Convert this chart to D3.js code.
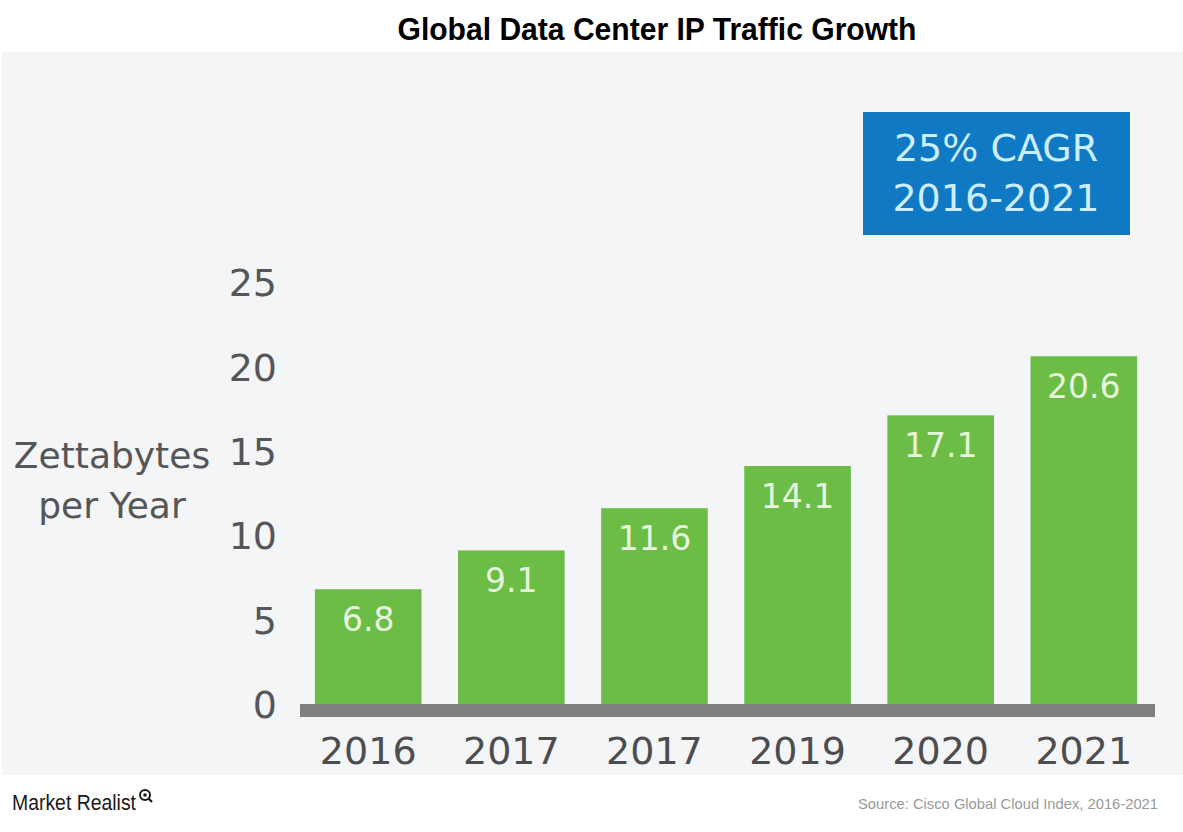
<!DOCTYPE html>
<html>
<head>
<meta charset="utf-8">
<script src="https://cdn.jsdelivr.net/npm/d3@7"></script>
<style>
  html, body { margin: 0; padding: 0; background: #ffffff; }
  svg { display: block; }
</style>
</head>
<body>
<svg id="chart" width="1183" height="832"></svg>
<script>
// ---- data ----
const years = ["2016", "2017", "2017 ", "2019", "2020", "2021"];
const yearLabels = ["2016", "2017", "2017", "2019", "2020", "2021"];
const traffic = [6.8, 9.1, 11.6, 14.1, 17.1, 20.6];
const yTicks = [0, 5, 10, 15, 20, 25];
const title = "Global Data Center IP Traffic Growth";
const yTitle = ["Zettabytes", "per Year"];
const cagrLines = ["25% CAGR", "2016-2021"];
const sourceText = "Source: Cisco Global Cloud Index, 2016-2021";
const brandText = "Market Realist";

// ---- drawing ----
const svg = d3.select("#chart");
const W = 1183, H = 832;
const sans = "'DejaVu Sans', 'Noto Sans', sans-serif";
const narrow = "'Liberation Sans Narrow', 'Liberation Sans', Arial, sans-serif";

svg.append("rect").attr("x", 0).attr("y", 0).attr("width", W).attr("height", H).attr("fill", "#ffffff");
// grey panel
svg.append("rect").attr("x", 2).attr("y", 52).attr("width", W - 2).attr("height", 723).attr("fill", "#f4f5f7");

// title
svg.append("text")
  .attr("x", 657).attr("y", 40)
  .attr("text-anchor", "middle")
  .attr("font-family", narrow)
  .attr("font-weight", "bold")
  .attr("font-size", 31)
  .attr("fill", "#000")
  .attr("textLength", 519)
  .attr("lengthAdjust", "spacingAndGlyphs")
  .text(title);

const y = d3.scaleLinear().domain([0, 25]).range([704, 282]);
const x = d3.scaleBand().domain(years).range([300.6, 1151.4]).paddingInner(0.255).paddingOuter(0.1);

// y axis (labels only)
const yAxis = d3.axisLeft(y).tickValues(yTicks).tickSize(0).tickPadding(0).tickFormat(d3.format("d"));
const gy = svg.append("g").attr("transform", "translate(277,0)").call(yAxis);
gy.select(".domain").remove();
gy.selectAll("text")
  .attr("font-family", sans)
  .attr("font-size", 38)
  .attr("fill", "#555658")
  .attr("dy", "0.36em");

// y title
svg.append("g").selectAll("text").data(yTitle).join("text")
  .attr("x", 112)
  .attr("y", (d, i) => 455 + i * 50)
  .attr("dy", "0.36em")
  .attr("text-anchor", "middle")
  .attr("font-family", sans)
  .attr("font-size", 36)
  .attr("fill", "#555658")
  .text(d => d);

// bars
svg.append("g").selectAll("rect").data(traffic).join("rect")
  .attr("x", (d, i) => x(years[i]))
  .attr("y", d => y(d))
  .attr("width", x.bandwidth())
  .attr("height", d => y(0) - y(d))
  .attr("fill", "#6bbd45");

// value labels
svg.append("g").selectAll("text").data(traffic).join("text")
  .attr("x", (d, i) => x(years[i]) + x.bandwidth() / 2)
  .attr("y", d => y(d) + 30)
  .attr("dy", "0.36em")
  .attr("text-anchor", "middle")
  .attr("font-family", sans)
  .attr("font-size", 33)
  .attr("fill", "#e6f5dc")
  .text(d => d.toFixed(1));

// baseline bar
svg.append("rect")
  .attr("x", 300).attr("y", y(0))
  .attr("width", 855).attr("height", 13)
  .attr("fill", "#7f7f7f");

// x labels
const xAxis = d3.axisBottom(x).tickSize(0).tickPadding(0).tickFormat((d, i) => yearLabels[i]);
const gx = svg.append("g").attr("transform", "translate(0,750)").call(xAxis);
gx.select(".domain").remove();
gx.selectAll("text")
  .attr("y", 0)
  .attr("dy", "0.36em")
  .attr("font-family", sans)
  .attr("font-size", 38)
  .attr("fill", "#4d4d4f");

// CAGR box
svg.append("rect").attr("x", 863).attr("y", 112).attr("width", 267).attr("height", 123).attr("fill", "#0f79c3");
svg.append("g").selectAll("text").data(cagrLines).join("text")
  .attr("x", 996)
  .attr("y", (d, i) => 147 + i * 50)
  .attr("dy", "0.36em")
  .attr("text-anchor", "middle")
  .attr("font-family", sans)
  .attr("font-size", 38)
  .attr("fill", "#cdeeff")
  .text(d => d);

// footer
svg.append("text")
  .attr("x", 12).attr("y", 810)
  .attr("font-family", narrow)
  .attr("font-size", 22)
  .attr("fill", "#1a1a1a")
  .attr("textLength", 124)
  .attr("lengthAdjust", "spacingAndGlyphs")
  .text(brandText);
svg.append("circle").attr("cx", 145).attr("cy", 795).attr("r", 5).attr("fill", "none").attr("stroke", "#1a1a1a").attr("stroke-width", 2);
svg.append("circle").attr("cx", 145).attr("cy", 795).attr("r", 1.8).attr("fill", "#1a1a1a");
svg.append("line").attr("x1", 148.5).attr("y1", 798.5).attr("x2", 152).attr("y2", 802).attr("stroke", "#1a1a1a").attr("stroke-width", 2.2);

svg.append("text")
  .attr("x", 1158).attr("y", 809)
  .attr("text-anchor", "end")
  .attr("font-family", narrow)
  .attr("font-size", 15)
  .attr("fill", "#9a9a9a")
  .attr("textLength", 300)
  .attr("lengthAdjust", "spacingAndGlyphs")
  .text(sourceText);
</script>
</body>
</html>
